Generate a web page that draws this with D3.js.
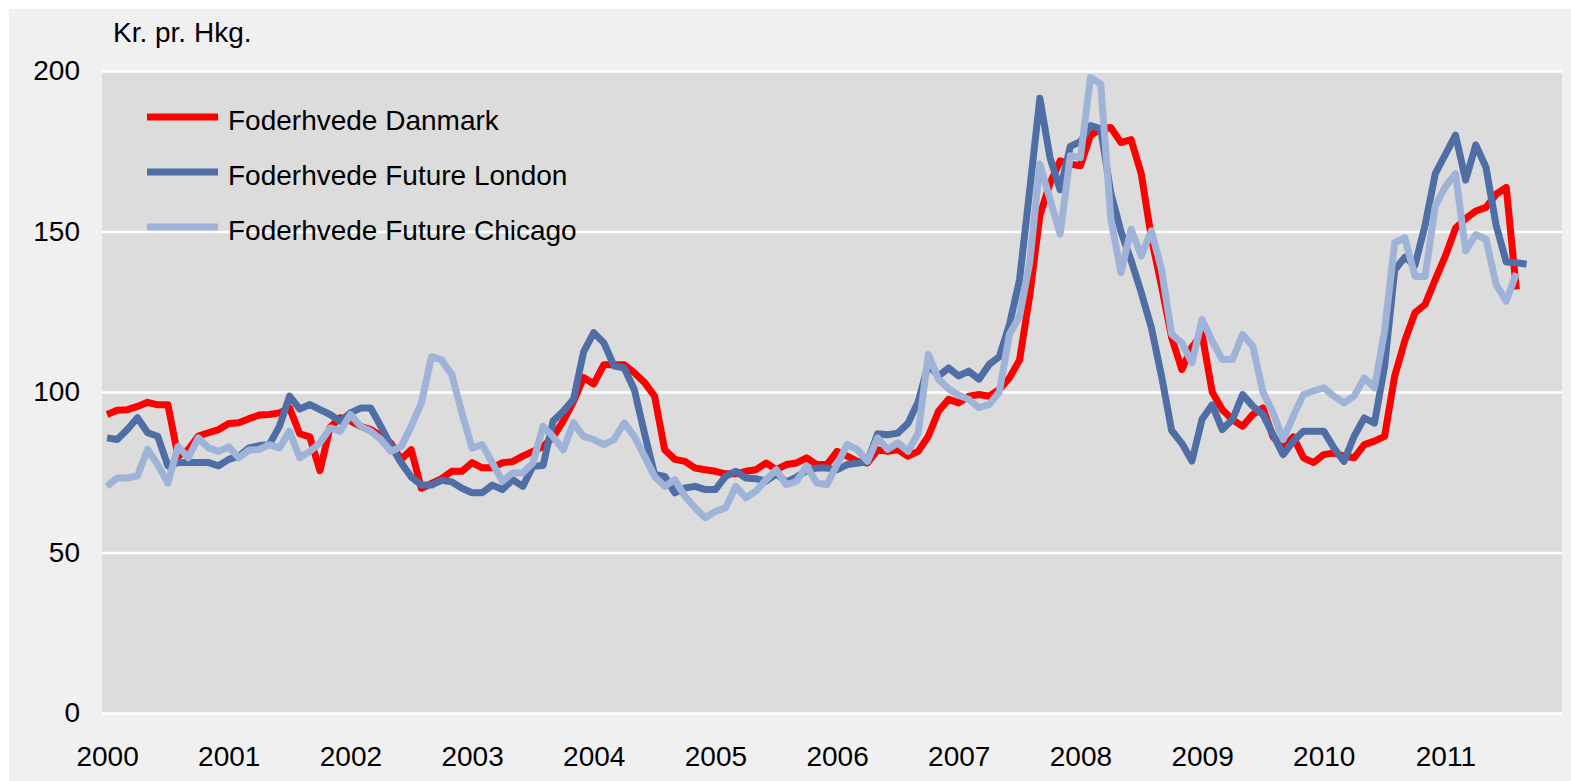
<!DOCTYPE html>
<html>
<head>
<meta charset="utf-8">
<script src="https://cdn.jsdelivr.net/npm/d3@7"></script>
<style>
  body { margin: 0; background: #ffffff; }
  svg text { font-family: "Liberation Sans", Arial, sans-serif; font-size: 28px; fill: #000; }
</style>
</head>
<body>
<svg id="chart" width="1571" height="781"></svg>
<script>
// Monthly prices, kr. pr. hkg., Jan 2000 onwards
var years = ["2000", "2001", "2002", "2003", "2004", "2005", "2006", "2007", "2008", "2009", "2010", "2011"];
var monthCount = 144;

var seriesNames = ["Foderhvede Danmark", "Foderhvede Future London", "Foderhvede Future Chicago"];
var seriesColors = ["#ff0000", "#4f6ea6", "#9fb3d8"];

var danmark = [
    93, 94.3, 94.5, 95.5, 96.8, 96, 96, 80, 82, 86.3,
    87.3, 88.3, 90.2, 90.4, 91.7, 92.8, 93, 93.5, 95, 87,
    86, 75.5, 89, 92, 91, 89.3, 88.3, 86.3, 84, 79,
    82, 70, 71.5, 73, 75.3, 75.3, 78, 76.4, 76.4, 78,
    78.3, 80, 81.5, 83, 86, 91, 97, 104.5, 102.5, 108.5,
    108.5, 108.5, 106, 103, 98.7, 82, 79, 78.4, 76.3, 75.8,
    75.3, 74.5, 74.5, 75.3, 75.8, 77.9, 75.8, 77.4, 77.9, 79.5,
    77.4, 77.4, 81.5, 80, 78.4, 77.9, 82, 81.5, 82, 80,
    81.5, 86.2, 94, 97.7, 96.6, 98.7, 99.2, 98.7, 100.8, 104.4,
    110, 130, 155, 165, 172, 171, 170.5, 180, 182, 182.4,
    177.7, 178.6, 168, 148, 133, 117, 107, 114, 118, 100,
    94.5, 91.4, 89.3, 93, 95, 86, 82.6, 86, 79.5, 78,
    80.5, 81, 80, 79.5, 83.6, 84.7, 86.2, 105, 116, 124.7,
    127.3, 135, 142.4, 151, 154, 156.4, 157.5, 161.6, 163.7, 132
];

var london = [
    85.7, 85.2, 88.3, 92, 87.3, 86.2, 77, 78, 78, 78,
    78, 77, 79, 80, 82.6, 83.3, 83.6, 89.3, 98.7, 94.7,
    96.1, 94.5, 93, 90.9, 93.5, 95, 95, 89.3, 83.3, 78,
    73.5, 71, 71, 72.5, 72, 70, 68.6, 68.6, 71, 69.6,
    72.7, 70.6, 76.9, 77.1, 91, 94, 97.7, 112.5, 118.5, 115.3,
    108.1, 107.5, 100.8, 87.2, 74.3, 73.7, 68.6, 70.1, 70.6, 69.6,
    69.6, 73.7, 75.3, 73.2, 73, 72.2, 74.5, 72, 73.5, 75.5,
    76.3, 76.3, 75.8, 77.4, 77.8, 78.4, 87, 86.7, 87.2, 90.3,
    97, 108.6, 105, 107.5, 105, 106.5, 104, 108.6, 111, 121,
    135, 163, 191.5, 173, 163, 176.5, 178, 183, 182, 162,
    150, 141, 131, 120, 105, 88, 84, 78.5, 91.5, 96,
    88.3, 91.4, 99.2, 95.6, 93, 86.7, 80.5, 84.7, 87.8, 87.8,
    87.8, 82.6, 78.4, 86.2, 91.9, 90.3, 108, 138, 142, 139.5,
    152, 168, 174, 180, 166, 177, 170, 152, 140.5, 140.3, 139.8
];

var chicago = [
    70.6, 73.2, 73.2, 73.9, 82.1, 77.3, 71.6, 83.1, 79.5, 85.7,
    82.6, 81.5, 82.9, 79.5, 81.9, 82.1, 83.6, 82.6, 87.8, 79.5,
    81.5, 84.2, 88.8, 87.8, 93, 89.3, 87.8, 85.2, 81.5, 83,
    89.3, 96.6, 111, 110, 105.4, 93.5, 82.5, 83.6, 77.9, 72.2,
    74.8, 74.8, 77.9, 89.3, 86, 82, 90.4, 86.2, 85.2, 83.6,
    85.2, 90.4, 86.2, 80, 73.7, 70.6, 72.7, 67.5, 63.9, 60.8,
    62.8, 63.9, 70.6, 67, 69.1, 72.7, 75.8, 71.1, 72.2, 76.9,
    71.7, 71.1, 77.4, 83.6, 82.1, 78.4, 85.7, 82.1, 84.2, 81.5,
    87.2, 111.7, 104, 101, 99, 97.7, 95.1, 96.1, 100, 118,
    123.6, 140.3, 171, 160, 149.2, 173.6, 173, 198, 196, 154,
    137.2, 150.7, 142.4, 150.2, 138.2, 118, 115.3, 109.1, 122.6, 115.8,
    110.1, 110.1, 117.9, 114.3, 100, 93.5, 85.2, 92.5, 99.2, 100.3,
    101.3, 98.7, 96.6, 98.7, 104.4, 101.3, 119, 146.5, 148, 136,
    136, 158, 164, 168, 144, 149, 147.6, 133.5, 128.3, 137
];

var yTicks = [0, 50, 100, 150, 200];

var svg = d3.select("#chart");
var plot = {left: 102, right: 1562, top: 71, bottom: 713};

// outer panel and plot area
svg.append("rect")
    .attr("x", 9).attr("y", 9)
    .attr("width", 1562).attr("height", 772)
    .attr("fill", "#f0f0f0");

svg.append("rect")
    .attr("x", plot.left).attr("y", plot.top)
    .attr("width", plot.right - plot.left)
    .attr("height", plot.bottom - plot.top)
    .attr("fill", "#dcdcdc");

var x = d3.scaleLinear().domain([-0.5, monthCount - 0.5]).range([plot.left, plot.right]);
var y = d3.scaleLinear().domain([0, 200]).range([plot.bottom, plot.top]);

// y axis with white gridlines
var yAxis = d3.axisLeft(y)
    .tickValues(yTicks)
    .tickSize(-(plot.right - plot.left))
    .tickPadding(22)
    .tickFormat(d3.format("d"));

var yg = svg.append("g")
    .attr("transform", "translate(" + plot.left + ",0)")
    .call(yAxis);
yg.select(".domain").remove();
yg.selectAll(".tick line").attr("stroke", "#ffffff").attr("stroke-width", 2.5);
yg.selectAll(".tick text").style("font-size", "28px").attr("fill", "#000");

// x axis, one label per year at its January
var xAxis = d3.axisBottom(x)
    .tickValues(years.map(function (d, i) { return i * 12; }))
    .tickSize(0)
    .tickPadding(33)
    .tickFormat(function (d) { return years[d / 12]; });

var xg = svg.append("g")
    .attr("transform", "translate(0," + plot.bottom + ")")
    .call(xAxis);
xg.select(".domain").remove();
xg.selectAll(".tick text").style("font-size", "28px").attr("fill", "#000");

// series lines
var line = d3.line()
    .x(function (d, i) { return x(i); })
    .y(function (d) { return y(d); });

[danmark, london, chicago].forEach(function (values, k) {
    svg.append("path")
        .datum(values)
        .attr("d", line)
        .attr("fill", "none")
        .attr("stroke", seriesColors[k])
        .attr("stroke-width", 7)
        .attr("stroke-linejoin", "round")
        .attr("stroke-linecap", "butt");
});

// unit label
svg.append("text")
    .attr("x", 113).attr("y", 42)
    .text("Kr. pr. Hkg.");

// legend
var legend = svg.append("g");
seriesNames.forEach(function (name, k) {
    var ly = 117 + k * 55;
    legend.append("line")
        .attr("x1", 147).attr("x2", 218)
        .attr("y1", ly).attr("y2", ly)
        .attr("stroke", seriesColors[k])
        .attr("stroke-width", 7);
    legend.append("text")
        .attr("x", 228).attr("y", ly + 13)
        .text(name);
});
</script>
</body>
</html>
